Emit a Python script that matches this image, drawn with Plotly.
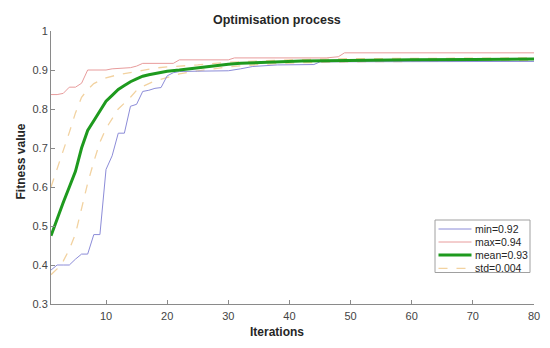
import plotly.graph_objects as go

# ---- data ----
min_x = [1, 2, 3, 4, 5, 6, 7, 8, 9, 10, 11, 12, 13, 14, 15, 16, 17, 18, 19, 20, 21, 22, 25, 30, 32, 34, 36, 38, 44, 45, 80]
min_y = [0.387, 0.400, 0.400, 0.400, 0.415, 0.428, 0.428, 0.478, 0.478, 0.645, 0.680, 0.738, 0.738, 0.807, 0.812,
         0.845, 0.848, 0.853, 0.855, 0.885, 0.893, 0.896, 0.897, 0.898, 0.903, 0.909, 0.911, 0.913, 0.914, 0.921, 0.922]

max_x = [1, 2, 3, 4, 5, 6, 7, 10, 11, 14, 15, 16, 21, 22, 30, 31, 46, 48, 49, 80]
max_y = [0.837, 0.837, 0.840, 0.856, 0.856, 0.866, 0.900, 0.900, 0.903, 0.906, 0.910, 0.917, 0.917, 0.926, 0.926,
         0.931, 0.931, 0.934, 0.944, 0.944]

mean_x = [1, 2, 3, 4, 5, 6, 7, 8, 9, 10, 11, 12, 13, 14, 15, 16, 17, 18, 19, 20, 22, 24, 26, 28, 30, 32, 35, 38, 42, 46, 50, 60, 70, 80]
mean_y = [0.475, 0.520, 0.560, 0.600, 0.640, 0.700, 0.745, 0.770, 0.795, 0.820, 0.835, 0.850, 0.860, 0.870, 0.877,
          0.884, 0.888, 0.891, 0.894, 0.897, 0.900, 0.904, 0.908, 0.912, 0.915, 0.917, 0.919, 0.921, 0.923, 0.924,
          0.925, 0.926, 0.927, 0.928]

std_up_x = [1, 2, 3, 4, 5, 6, 7, 8, 9, 10, 12, 14, 16, 18, 20, 25, 30, 35, 40, 50, 60, 80]
std_up_y = [0.600, 0.645, 0.690, 0.740, 0.790, 0.830, 0.850, 0.865, 0.873, 0.880, 0.888, 0.893, 0.899, 0.905,
            0.908, 0.913, 0.920, 0.923, 0.926, 0.929, 0.930, 0.931]

std_lo_x = [1, 2, 3, 4, 5, 6, 7, 8, 9, 10, 11, 12, 13, 14, 15, 16, 18, 20, 22, 25, 30, 35, 40, 50, 60, 80]
std_lo_y = [0.375, 0.390, 0.410, 0.440, 0.480, 0.545, 0.610, 0.665, 0.715, 0.750, 0.775, 0.800, 0.815, 0.830,
            0.848, 0.858, 0.872, 0.882, 0.890, 0.898, 0.908, 0.914, 0.918, 0.921, 0.922, 0.924]

legend_names = ["min=0.92", "max=0.94", "mean=0.93", "std=0.004"]
x_ticks = [10, 20, 30, 40, 50, 60, 70, 80]
y_ticks = [0.3, 0.4, 0.5, 0.6, 0.7, 0.8, 0.9, 1.0]
y_tick_text = ["0.3", "0.4", "0.5", "0.6", "0.7", "0.8", "0.9", "1"]

FONT = "Liberation Sans, Arial, sans-serif"
AX = "#8a8a8a"
C_MIN, C_MAX, C_MEAN, C_STD = "#8c8cd8", "#e89c9c", "#1e9a1e", "#f2d2a0"
styles = [dict(color=C_MIN, width=1), dict(color=C_MAX, width=1),
          dict(color=C_MEAN, width=3), dict(color=C_STD, width=1.3, dash="dash")]

# page body has an 8px margin: figure is drawn 8px right/down of the window origin
OFF = 8
W, H = 550 - OFF, 348 - OFF
PLOT_L, PLOT_R, PLOT_T, PLOT_B = 51, 534, 31, 304        # wanted screen positions
L, T = PLOT_L - OFF, PLOT_T - OFF
R, B = W - (PLOT_R - OFF), H - (PLOT_B - OFF)
PW, PH = W - L - R, H - T - B


def px(xscreen):
    return (xscreen - PLOT_L) / PW


def py(yscreen):
    return (PLOT_B - yscreen) / PH


fig = go.Figure()
fig.add_trace(go.Scatter(x=std_up_x, y=std_up_y, mode="lines", name=legend_names[3], line=styles[3]))
fig.add_trace(go.Scatter(x=std_lo_x, y=std_lo_y, mode="lines", name=legend_names[3], line=styles[3]))
fig.add_trace(go.Scatter(x=min_x, y=min_y, mode="lines", name=legend_names[0], line=styles[0]))
fig.add_trace(go.Scatter(x=max_x, y=max_y, mode="lines", name=legend_names[1], line=styles[1]))
fig.add_trace(go.Scatter(x=mean_x, y=mean_y, mode="lines", name=legend_names[2], line=styles[2]))

# legend box drawn in paper coordinates
shapes = [dict(type="rect", xref="paper", yref="paper", x0=px(435), x1=px(530), y0=py(272.5), y1=py(220),
               line=dict(color="#a0a0a0", width=1), fillcolor="white", layer="above")]
annotations = []
rows = [229, 242, 255, 268.3]
for name, st, yr in zip(legend_names, styles, rows):
    shapes.append(dict(type="line", xref="paper", yref="paper", x0=px(438.5), x1=px(471.5),
                       y0=py(yr), y1=py(yr), line=st, layer="above"))
    annotations.append(dict(text=name, xref="paper", yref="paper", x=px(473), y=py(yr),
                            xanchor="left", yanchor="middle", showarrow=False,
                            font=dict(size=10.5, color="#262626", family=FONT)))

# titles
annotations.append(dict(text="<b>Optimisation process</b>", xref="paper", yref="paper", x=px(276.7), y=py(20),
                        xanchor="center", yanchor="middle", showarrow=False,
                        font=dict(size=12.5, color="#262626", family=FONT)))
annotations.append(dict(text="<b>Iterations</b>", xref="paper", yref="paper", x=px(276.7), y=py(331.7),
                        xanchor="center", yanchor="middle", showarrow=False,
                        font=dict(size=12, color="#262626", family=FONT)))
annotations.append(dict(text="<b>Fitness value</b>", xref="paper", yref="paper", x=px(20), y=py(161.5),
                        xanchor="center", yanchor="middle", showarrow=False, textangle=-90,
                        font=dict(size=12, color="#262626", family=FONT)))

fig.update_layout(
    width=W, height=H,
    margin=dict(l=L, r=R, t=T, b=B, autoexpand=False),
    paper_bgcolor="white", plot_bgcolor="white",
    font=dict(family=FONT, color="#444444", size=11),
    showlegend=False,
    shapes=shapes, annotations=annotations,
    xaxis=dict(range=[1, 80], tickvals=x_ticks, ticks="inside", ticklen=4, tickcolor=AX,
               showline=True, linecolor=AX, linewidth=1, showgrid=False, zeroline=False,
               automargin=False, ticklabelstandoff=2, tickfont=dict(size=11, color="#444444")),
    yaxis=dict(range=[0.3, 1.0], tickvals=y_ticks, ticktext=y_tick_text, ticks="inside", ticklen=4,
               tickcolor=AX, showline=True, linecolor=AX, linewidth=1, showgrid=False, zeroline=False,
               automargin=False, tickfont=dict(size=11, color="#444444")),
)

fig.write_html("out.html")
